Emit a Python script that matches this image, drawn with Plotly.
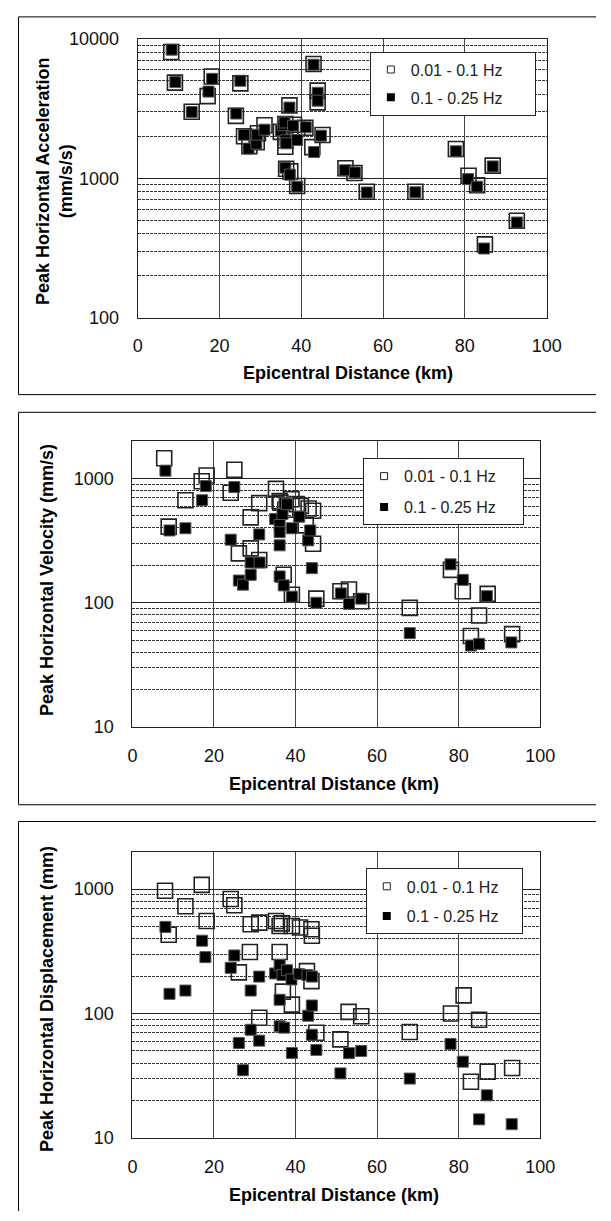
import plotly.graph_objects as go
import math

W, H = 611, 1221
FONT = "Arial, 'Liberation Sans', sans-serif"

# ---------------- DATA ----------------
# Panel 1: Peak Horizontal Acceleration (mm/s/s)
acc_low_dist = [8.2, 9.1, 13.2, 17.1, 18.1, 24.0, 25.1, 26.0, 27.3, 29.1, 29.4, 31.0, 35.0, 36.1, 36.1, 36.1,
                36.3, 37.1, 37.3, 38.2, 39.0, 39.0, 41.0, 42.7, 43.0, 44.0, 44.0, 45.2, 50.8, 53.0, 56.0,
                67.9, 77.8, 80.9, 83.0, 84.9, 86.8, 92.7]
acc_low_val = [8050, 4850, 3000, 3880, 5370, 2800, 4790, 2000, 1700, 1810, 2100, 2400, 2150, 2450, 1870, 1680,
               1170, 3330, 1120, 2420, 2280, 880, 2300, 1670, 6600, 4250, 3500, 2040, 1180, 1090, 800,
               800, 1620, 1040, 890, 335, 1230, 495]
acc_high_dist = [8.3, 9.2, 13.2, 17.3, 18.2, 24.1, 25.1, 26.0, 27.1, 29.0, 29.2, 31.0, 35.0, 35.5, 35.9, 36.1,
                 36.3, 36.1, 37.1, 37.2, 38.0, 39.0, 39.0, 41.1, 43.0, 43.1, 44.0, 44.0, 44.8, 50.7, 53.1,
                 56.0, 67.9, 77.8, 80.8, 83.0, 84.7, 86.8, 92.7]
acc_high_val = [8360, 4890, 2990, 4180, 5160, 2910, 5000, 2050, 1630, 1770, 2050, 2230, 2200, 2400, 2510, 1870,
                1780, 1190, 3210, 1060, 2380, 1880, 870, 2320, 6520, 1540, 4100, 3600, 2020, 1140, 1100,
                790, 793, 1560, 985, 870, 313, 1215, 481]

# Panel 2: Peak Horizontal Velocity (mm/s)
vel_low_dist = [7.8, 8.9, 13.0, 17.0, 18.2, 24.1, 25.0, 26.1, 29.0, 29.0, 31.1, 31.1, 35.2, 36.1, 36.3, 37.5,
                37.1, 39.0, 39.1, 40.3, 41.3, 42.5, 43.2, 44.3, 44.3, 45.1, 51.0, 53.1, 56.1, 68.0, 78.1,
                81.0, 83.0, 85.0, 87.1, 93.1]
vel_low_val = [1456, 410, 668, 952, 1057, 769, 1178, 250, 487, 274, 634, 221, 826, 660, 640, 560,
               168, 681, 116, 622, 602, 420, 574, 550, 299, 108, 124, 128, 103, 91, 184,
               124, 54, 79, 118, 56]
vel_high_dist = [8.1, 9.1, 13.0, 17.1, 18.0, 24.1, 25.0, 26.1, 27.1, 29.0, 29.0, 31.1, 31.2, 35.0, 36.1, 36.1,
                 36.1, 36.8, 37.3, 37.9, 39.1, 40.9, 43.1, 43.6, 44.0, 36.1, 37.1, 39.1, 45.1, 51.1, 53.1,
                 56.1, 68.0, 78.0, 81.0, 83.0, 85.0, 86.9, 92.9]
vel_high_val = [1157, 382, 398, 669, 869, 322, 853, 151, 140, 211, 168, 355, 211, 473, 424, 370,
                290, 518, 640, 622, 398, 493, 318, 382, 190, 163, 138, 112, 100, 119, 98,
                108, 57, 204, 153, 45.3, 46.7, 113, 48]

# Panel 3: Peak Horizontal Displacement (mm)
dis_low_dist = [8.0, 8.9, 13.0, 17.0, 18.2, 24.1, 25.0, 26.1, 28.8, 29.0, 31.1, 31.1, 35.2, 36.1, 36.6, 36.1,
                36.9, 39.1, 39.1, 41.1, 42.8, 43.9, 44.0, 43.9, 45.1, 51.0, 53.0, 56.1, 68.0, 78.1,
                81.2, 83.0, 85.0, 87.1, 93.1]
dis_low_val = [970, 430, 728, 1082, 554, 833, 741, 214, 312, 522, 538, 92.5, 554, 506, 530, 312,
               150, 506, 118, 491, 219, 476, 422, 182, 70, 62, 103, 95, 71, 100,
               140, 28.3, 89, 34, 36.5]
dis_high_dist = [8.1, 9.1, 13.0, 17.1, 17.9, 24.1, 25.0, 26.1, 27.1, 29.0, 29.0, 31.1, 31.1, 35.0, 36.1, 36.1,
                 36.1, 36.8, 37.2, 37.9, 39.0, 39.1, 40.9, 42.9, 43.1, 44.0, 44.0, 44.0, 45.1, 51.0,
                 53.1, 56.1, 68.0, 78.0, 81.0, 85.0, 86.9, 93.0]
dis_high_val = [497, 144, 153, 385, 284, 233, 293, 58, 35, 153, 74, 198, 60.5, 210, 245, 129,
                79, 204, 77, 223, 188, 48.2, 208, 204, 96, 198, 116, 67.5, 51, 33,
                48, 50, 30, 57, 41, 14.1, 22, 12.9]

series_names = ["0.01 - 0.1 Hz", "0.1 - 0.25 Hz"]
x_ticks = [0, 20, 40, 60, 80, 100]
y_titles = ["Peak Horizontal Acceleration<br>(mm/s/s)", "Peak Horizontal Velocity (mm/s)",
            "Peak Horizontal Displacement (mm)"]
x_title = "Epicentral Distance (km)"
y_ticks = [[100, 1000, 10000], [10, 100, 1000], [10, 100, 1000]]
y_ranges = [[100, 10000], [10, 2000], [10, 2000]]

panels = [
    (acc_low_dist, acc_low_val, acc_high_dist, acc_high_val),
    (vel_low_dist, vel_low_val, vel_high_dist, vel_high_val),
    (dis_low_dist, dis_low_val, dis_high_dist, dis_high_val),
]

# ---------------- LAYOUT (page pixel geometry -> paper fractions) ----------------
def px(x):
    return x / W

def py(y):
    return 1 - y / H

plot_boxes = [  # left, right, top, bottom in page pixels
    (137.2, 560.0, 29.3, 312.7),
    (131.7, 553.4, 438.3, 729.0),
    (131.7, 553.4, 855.7, 1146.7),
]
legend_left_top = [(377.2, 42.3), (370.2, 455.7), (373.0, 872.7)]
legend_gap = [4, 7, 6]
legend_pad = [6, 5, 4]
frames = [(14, 7, 391), (14, 409, 808), (14, 825, 1240)]
ytitle_pos = [(50.5, 174), (42.9, 579), (42.9, 1005)]
xtitle_pos = [(354.6, 369.3), (340.2, 786.7), (340.2, 1205)]

fig = go.Figure()
layout = dict(
    width=W, height=H,
    margin=dict(l=0, r=0, t=0, b=0),
    paper_bgcolor="white", plot_bgcolor="white",
    font=dict(family=FONT, size=18, color="#111"),
    showlegend=True,
    shapes=[], annotations=[],
)

for i, (ld, lv, hd, hv) in enumerate(panels):
    n = "" if i == 0 else str(i + 1)
    xa, ya = "x" + n, "y" + n
    leg = "legend" + n
    L, R, T, B = plot_boxes[i]

    fig.add_trace(go.Scatter(
        x=ld, y=lv, mode="markers", xaxis=xa, yaxis=ya, showlegend=False,
        marker=dict(symbol="square-open", size=15, color="#222", line=dict(width=1.6, color="#222")),
        hoverinfo="skip"))
    fig.add_trace(go.Scatter(
        x=hd, y=hv, mode="markers", xaxis=xa, yaxis=ya, showlegend=False,
        marker=dict(symbol="square", size=11, color="black", line=dict(width=1, color="#555")),
        hoverinfo="skip"))
    pad = "\u00a0" * legend_pad[i]
    # legend-only entries
    fig.add_trace(go.Scatter(
        x=[None], y=[None], mode="markers", xaxis=xa, yaxis=ya, name=series_names[0] + pad,
        legend=leg, legendgroup="a" + n,
        marker=dict(symbol="square-open", size=7, color="#222", line=dict(width=1, color="#222"))))
    fig.add_trace(go.Scatter(
        x=[None], y=[None], mode="markers", xaxis=xa, yaxis=ya, name=series_names[1] + pad,
        legend=leg, legendgroup="b" + n,
        marker=dict(symbol="square", size=8, color="black")))

    layout["xaxis" + n] = dict(
        domain=[px(L), px(R)], anchor=ya, range=[0, 100], tickvals=x_ticks,
        showgrid=True, gridcolor="#444", gridwidth=1, zeroline=False,
        showline=True, mirror=True, linecolor="#222", linewidth=1,
        ticks="", ticklabelstandoff=12, tickfont=dict(size=18, color="#111"))
    yr = [math.log10(y_ranges[i][0]), math.log10(y_ranges[i][1])]
    layout["yaxis" + n] = dict(
        domain=[py(B), py(T)], anchor=xa, type="log", range=yr,
        tickvals=y_ticks[i], ticktext=[str(v) for v in y_ticks[i]],
        showgrid=True, gridcolor="#222", gridwidth=1, zeroline=False,
        showline=True, mirror=True, linecolor="#222", linewidth=1,
        ticks="", ticklabelstandoff=14, tickfont=dict(size=18, color="#111"),
        minor=dict(dtick="D1", showgrid=True, gridcolor="#333", gridwidth=1, griddash="3px,1px", ticks=""))

    lx, ly = legend_left_top[i]
    layout[leg] = dict(
        x=px(lx), y=py(ly), xanchor="left", yanchor="top",
        bgcolor="white", bordercolor="#222", borderwidth=1,
        font=dict(family=FONT, size=16, color="#222"),
        tracegroupgap=legend_gap[i], itemclick=False)

    fx, fy0, fy1 = frames[i]
    segs = [(px(fx), py(fy0), 1.0, py(fy0)), (px(fx), py(fy0), px(fx), max(0.0, py(fy1)))]
    if py(fy1) >= 0:
        segs.append((px(fx), py(fy1), 1.0, py(fy1)))
    for (x0, y0, x1, y1) in segs:
        layout["shapes"].append(dict(type="line", xref="paper", yref="paper",
                                     x0=x0, y0=y0, x1=x1, y1=y1,
                                     line=dict(color="black", width=1)))

    tx, ty = ytitle_pos[i]
    layout["annotations"].append(dict(
        text="<b>" + y_titles[i] + "</b>", xref="paper", yref="paper", x=px(tx), y=py(ty),
        xanchor="center", yanchor="middle", textangle=-90, showarrow=False,
        font=dict(family=FONT, size=18, color="black")))
    tx, ty = xtitle_pos[i]
    layout["annotations"].append(dict(
        text="<b>" + x_title + "</b>", xref="paper", yref="paper", x=px(tx), y=py(ty),
        xanchor="center", yanchor="middle", showarrow=False,
        font=dict(family=FONT, size=18, color="black")))

fig.update_layout(**layout)
fig.write_html(
    "out.html",
    config={"displayModeBar": False, "staticPlot": True},
    post_script="document.body.style.margin='0';document.documentElement.style.overflow='hidden';"
                "document.body.style.overflow='hidden';",
)
